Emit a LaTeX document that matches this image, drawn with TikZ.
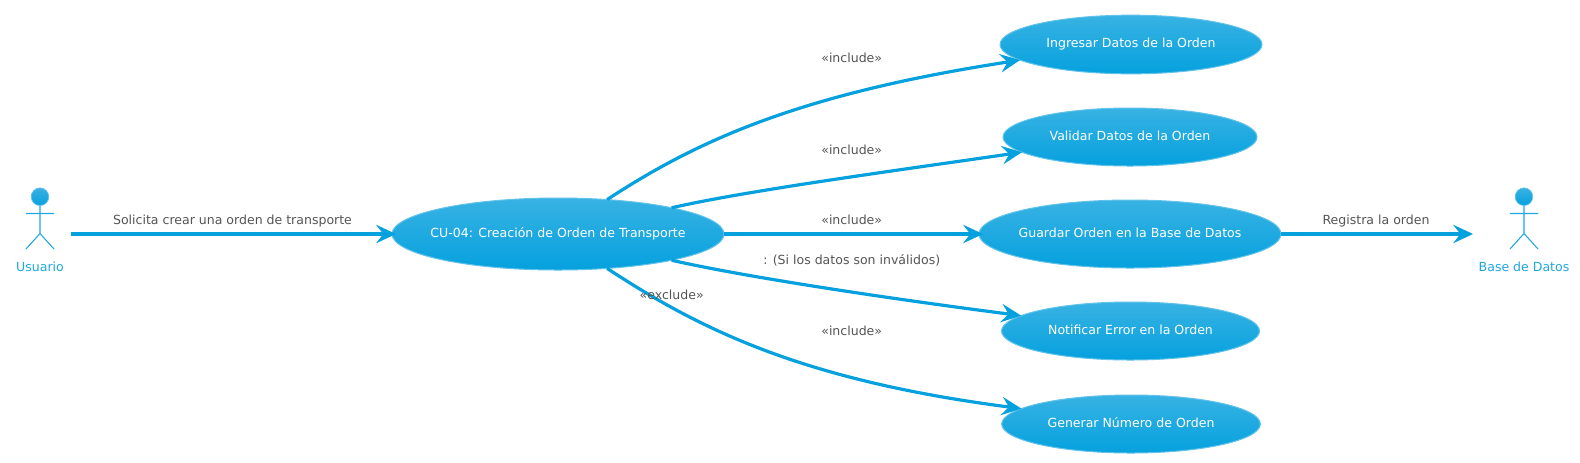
\documentclass[tikz,border=0pt]{standalone}
\usepackage{fontspec}
\setmainfont{DejaVu Sans}
\usetikzlibrary{shapes.geometric,arrows.meta}
\definecolor{umlblue}{HTML}{05A1DE}
\definecolor{umltop}{HTML}{38B2E3}
\definecolor{umledge}{HTML}{62C3EA}
\definecolor{umlactor}{HTML}{1FA9E0}
\definecolor{umltext}{HTML}{555555}
\newcommand{\etxt}[1]{\makebox[0pt]{#1}}
\tikzset{
  x=0.75pt,y=-0.75pt,
  usecase/.style={ellipse,draw=umledge,line width=0.75pt,top color=umltop,bottom color=umlblue,
    inner sep=0pt,outer sep=0pt,text=white,font=\fontsize{9.4pt}{11pt}\selectfont,text height=5.2pt,text depth=0pt},
  link/.style={draw=umlblue,line width=2.4pt,-{Stealth[length=15pt,width=14pt,inset=5.5pt,line width=0pt]}},
  edgelabel/.style={anchor=base,inner sep=0pt,text=umltext,font=\fontsize{9.4pt}{11pt}\selectfont},
  actorlabel/.style={anchor=base,inner sep=0pt,text=umlactor,font=\fontsize{9.4pt}{11pt}\selectfont},
  actorhead/.style={circle,draw=umledge,line width=0.5pt,top color=umltop,bottom color=umlblue,inner sep=0pt,minimum size=13.2pt},
  actorline/.style={draw=umlactor,line width=0.8pt},
}
\newcommand{\umlfigure}[3]{%
  \node[actorhead] (#1) at (#2,196.7) {};
  \coordinate (#1hip) at (#2,233.5);
  \coordinate (#1armL) at (#2-14,213.5);
  \coordinate (#1armR) at (#2+14,213.5);
  \coordinate (#1legL) at (#2-14,249);
  \coordinate (#1legR) at (#2+14,249);
  \path[actorline] (#1.south) -- (#1hip) (#1armL) -- (#1armR) (#1legL) -- (#1hip) -- (#1legR);
  \node[actorlabel] (#1label) at (#2,271) {#3};
}
\begin{document}
\begin{tikzpicture}
\path[use as bounding box,fill=white] (0,0) rectangle (1580,462);

\node[usecase,minimum width=249pt,minimum height=54pt] (main) at (558,234) {\etxt{CU-04: Creación de Orden de Transporte}};
\node[usecase,minimum width=196.5pt,minimum height=44pt] (ing) at (1131,44.5) {\etxt{Ingresar Datos de la Orden}};
\node[usecase,minimum width=190.5pt,minimum height=43.5pt] (val) at (1130,137) {\etxt{Validar Datos de la Orden}};
\node[usecase,minimum width=226.5pt,minimum height=51pt] (gua) at (1130,234) {\etxt{Guardar Orden en la Base de Datos}};
\node[usecase,minimum width=193.5pt,minimum height=43.5pt] (not) at (1130.5,331) {\etxt{Notificar Error en la Orden}};
\node[usecase,minimum width=194pt,minimum height=43.5pt] (gen) at (1131,424) {\etxt{Generar Número de Orden}};

\umlfigure{usu}{40}{Usuario}
\umlfigure{bas}{1524}{Base de Datos}

\coordinate (usuout) at (71,234);
\coordinate (basin) at (1473,234);

\path[link,shorten >=-3pt] (usuout) -- (main.west);
\path[link] (main.35) .. controls (698,140) and (800,94) .. (ing.188);
\path[link] (main.13) .. controls (750,190) and (900,170) .. (val.188);
\path[link,shorten >=-3pt] (main.east) -- (gua.west);
\path[link] (main.-13) .. controls (750,278) and (900,300) .. (not.172.5);
\path[link] (main.-35) .. controls (698,328) and (800,380) .. (gen.172.7);
\path[link] (gua.east) -- (basin);

\node[edgelabel] (l1) at (232.5,224) {Solicita crear una orden de transporte};
\node[edgelabel] (l2) at (851.7,62) {«include»};
\node[edgelabel] (l3) at (851.7,154) {«include»};
\node[edgelabel] (l4) at (851.7,224) {«include»};
\node[edgelabel] (l5) at (851.7,264) {: (Si los datos son inválidos)};
\node[edgelabel] (l6) at (671.7,299.5) {«exclude»};
\node[edgelabel] (l7) at (851.7,335.5) {«include»};
\node[edgelabel] (l8) at (1376,224) {Registra la orden};
\end{tikzpicture}
\end{document}
